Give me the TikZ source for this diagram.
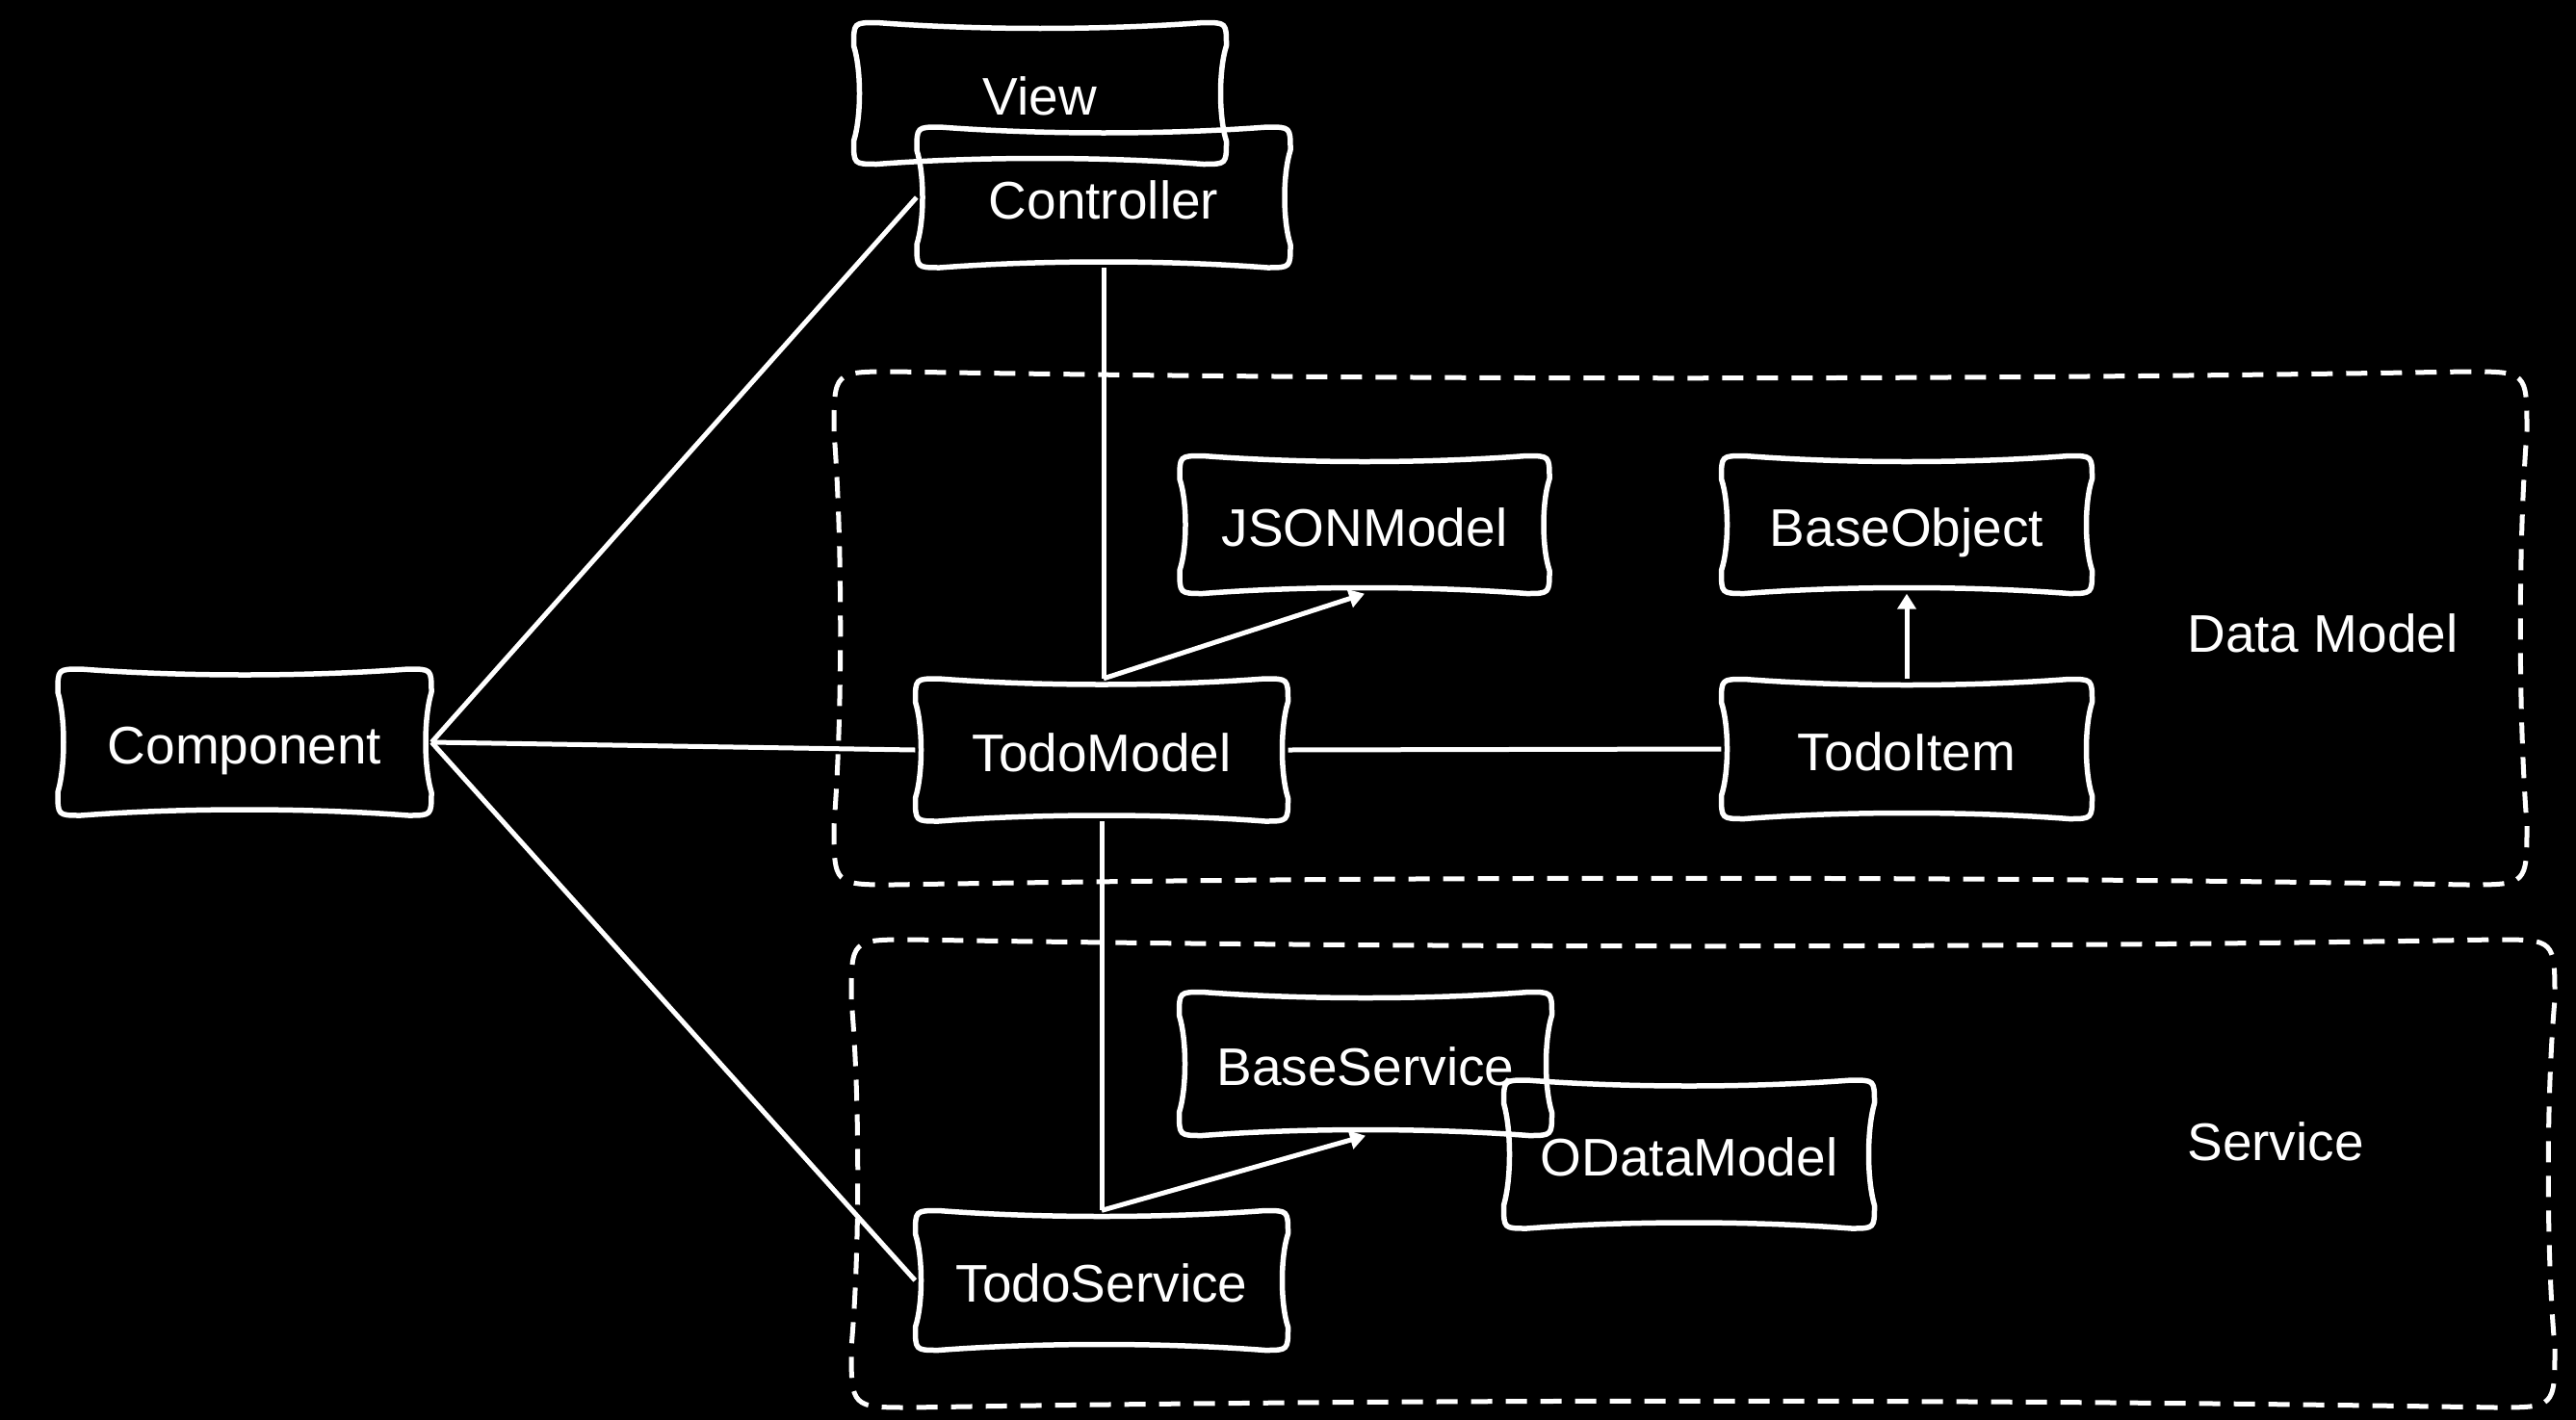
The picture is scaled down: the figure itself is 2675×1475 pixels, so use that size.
\documentclass[tikz,border=0pt]{standalone}
\usepackage{fontspec}
\setmainfont{Liberation Sans}
\usetikzlibrary{arrows.meta,calc}
\tikzset{
  sk/.style={draw=white, line width=5.5pt, line join=round, line cap=round},
  skdash/.style={draw=white, line width=5pt, dash pattern=on 22pt off 14pt},
  lbl/.style={text=white, font=\fontsize{55}{62}\selectfont, inner sep=0pt, text height=44pt, text depth=0pt},
  conn/.style={draw=white, line width=5pt},
  arr/.style={conn, -{Triangle[length=16pt,width=19pt]}},
}
\newcommand\skshape[7]{%
  \draw[#1] (#2,#3+#6) .. controls (#2,#3) .. (#2+#6,#3)
    .. controls ({#2+(#4-#2)/3},#3+#7) and ({#4-(#4-#2)/3},#3+#7) .. (#4-#6,#3)
    .. controls (#4,#3) .. (#4,#3+#6)
    .. controls (#4-#7,{#3+(#5-#3)/3}) and (#4-#7,{#5-(#5-#3)/3}) .. (#4,#5-#6)
    .. controls (#4,#5) .. (#4-#6,#5)
    .. controls ({#4-(#4-#2)/3},#5-#7) and ({#2+(#4-#2)/3},#5-#7) .. (#2+#6,#5)
    .. controls (#2,#5) .. (#2,#5-#6)
    .. controls (#2+#7,{#5-(#5-#3)/3}) and (#2+#7,{#3+(#5-#3)/3}) .. cycle;
}
\newcommand\skbox[6]{%
  \node[lbl, minimum width=#4pt, minimum height=#5pt] (#1) at (#2,#3) {#6};
  \pgfmathsetmacro\ska{#2-#4/2}\pgfmathsetmacro\skc{#2+#4/2}%
  \pgfmathsetmacro\skb{#3-#5/2}\pgfmathsetmacro\skd{#3+#5/2}%
  \skshape{sk}{\ska}{\skb}{\skc}{\skd}{24}{8}%
}
\begin{document}
\begin{tikzpicture}[x=1pt,y=-1pt]
\fill[black] (0,0) rectangle (2675,1475);
\useasboundingbox (0,0) rectangle (2675,1475);

% dashed regions
\skshape{skdash}{866}{386}{2624}{919}{62}{9}
\skshape{skdash}{884}{976}{2653}{1462}{62}{9}
\node[lbl] (dmlabel) at (2412,655) {Data Model};
\node[lbl] (svlabel) at (2363,1183) {Service};

% boxes
\skbox{view}{1080}{97}{387}{147}{View}
\skbox{ctrl}{1146}{205}{388}{146}{Controller}
\skbox{json}{1417}{545}{384}{143}{JSONModel}
\skbox{bobj}{1980}{545}{385}{143}{BaseObject}
\skbox{tm}{1144}{779}{387}{148}{TodoModel}
\skbox{ti}{1980}{778}{385}{145}{TodoItem}
\skbox{comp}{254}{771}{388}{152}{Component}
\skbox{bsvc}{1418}{1105}{387}{149}{BaseService}
\skbox{odata}{1754}{1199}{385}{154}{ODataModel}
\skbox{ts}{1144}{1330}{387}{145}{TodoService}

% connectors
\coordinate (tmtop) at (ctrl.south |- tm.north);
\coordinate (tstop) at (tm.south |- ts.north);
\draw[conn] (comp.east) -- (ctrl.west);
\draw[conn] (comp.east) -- (tm.west);
\draw[conn] (comp.east) -- (ts.west);
\draw[conn] (ctrl.south) -- (tmtop);
\draw[arr] (tmtop) -- (json.south);
\draw[conn] (tm.south) -- (tstop);
\draw[arr] (tstop) -- (bsvc.south);
\draw[conn] (tm.east) -- (ti.west);
\draw[arr] (ti.north) -- (bobj.south);
\end{tikzpicture}
\end{document}
